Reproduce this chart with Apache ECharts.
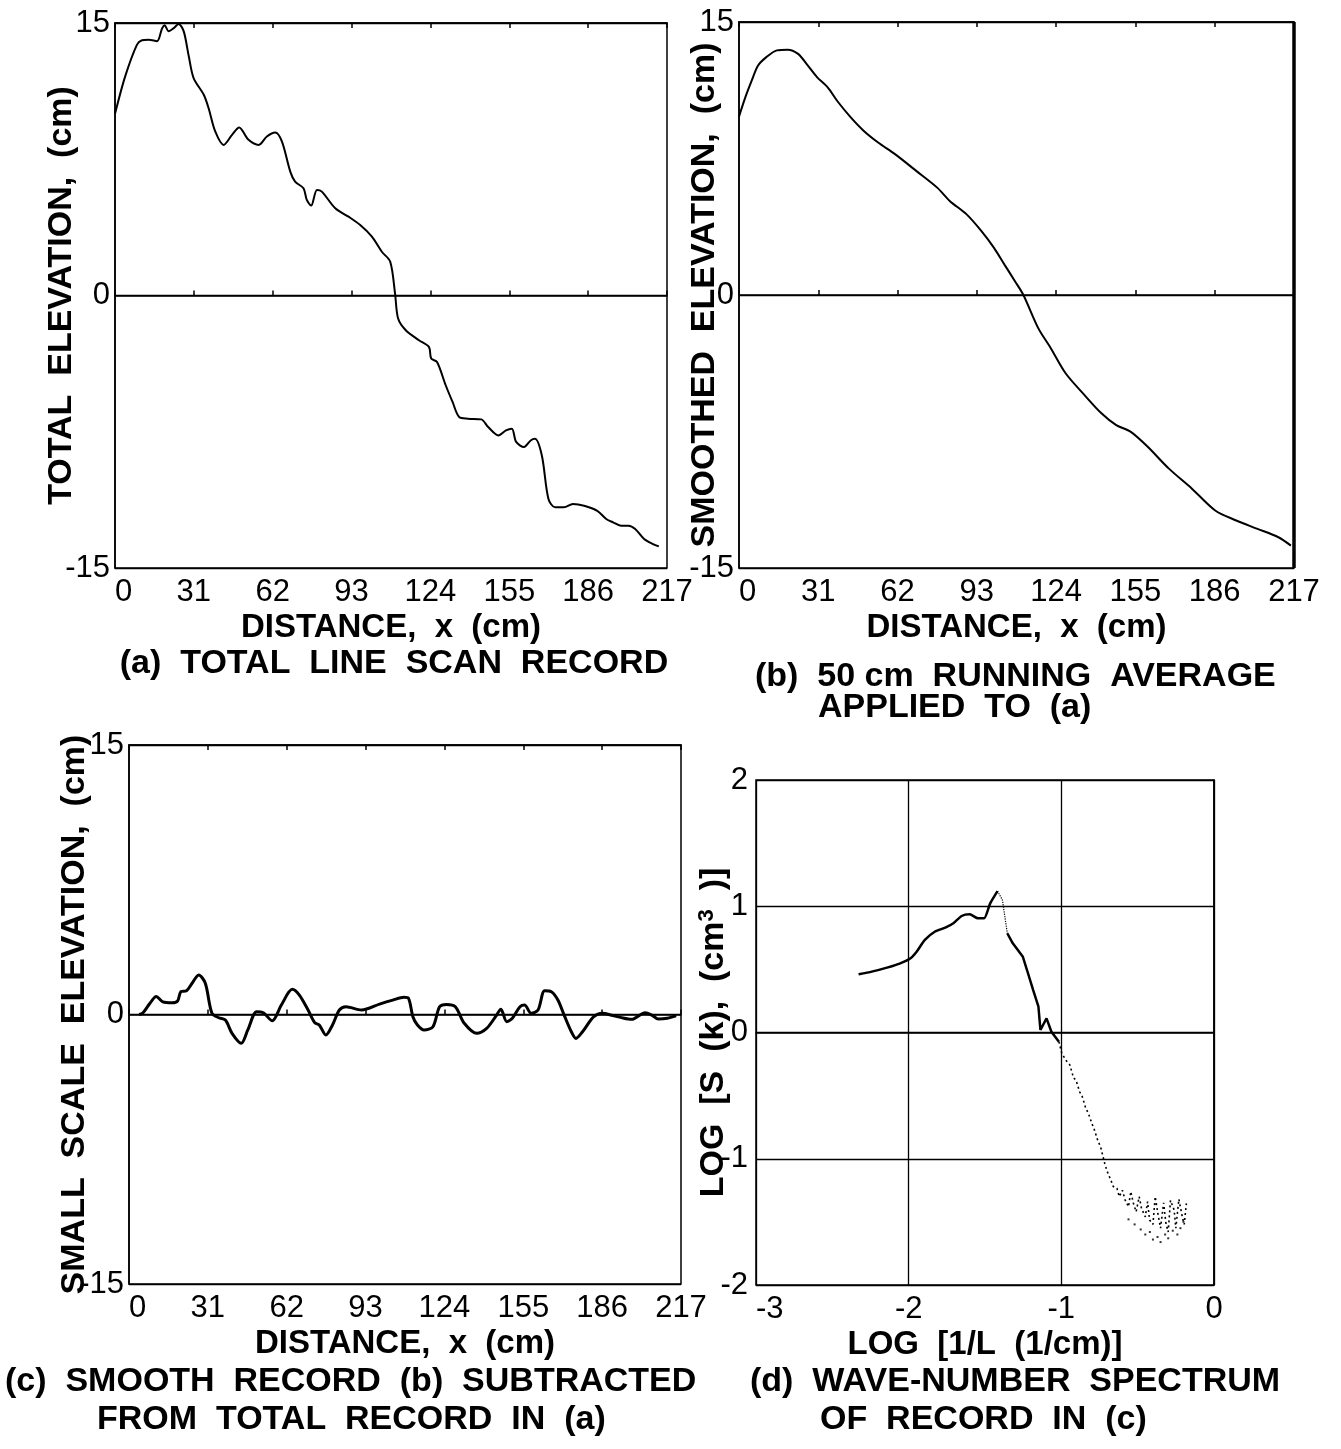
<!DOCTYPE html>
<html>
<head>
<meta charset="utf-8">
<script src="https://cdn.jsdelivr.net/npm/echarts@6/dist/echarts.min.js"></script>
<style>
  html, body { margin: 0; padding: 0; background: #fff; }
  #chart { width: 1341px; height: 1449px; }
</style>
</head>
<body>
<div id="chart"></div>
<script>
// ---- (a) total line scan record: distance (cm) / elevation (cm)
const totalDist = [0, 4.0, 8.6, 10.6, 13.2, 16.5, 18.5, 19.5, 21.1, 23.1, 25, 27, 29, 30.9, 34.9, 36.8, 39.4, 42.7, 46, 48.8,
  52.5, 56.5, 59.7, 63, 65.6, 68.9, 70.8, 74.1, 75.4, 77.1, 79.4, 81.3, 86.6, 91.8, 96.4, 101, 104.9, 108.2, 110.1, 111.3,
  114.3, 119.5, 123.4, 124.3, 126.6, 130, 132.7, 135.3, 138.8, 144, 146.7, 150.7, 153.7, 156, 157.7, 160.8, 163.4, 165.1, 167.8, 170.4,
  173, 176.5, 180, 184.4, 189.6, 193.1, 195.8, 198.9, 201.9, 204.5, 208, 211.5, 213.8];
const totalElev = [10.0, 12.06, 13.8, 14.05, 14.08, 14.0, 14.7, 14.87, 14.55, 14.72, 14.95, 14.55, 13.17, 11.97, 11.05, 10.31, 9.03, 8.29, 8.84, 9.25,
  8.57, 8.29, 8.75, 8.97, 8.48, 6.82, 6.27, 5.9, 5.26, 4.95, 5.81, 5.72, 4.8, 4.34, 3.88, 3.24, 2.41, 1.86, 0.1, -1.27,
  -1.91, -2.46, -2.83, -3.47, -3.66, -4.94, -5.86, -6.69, -6.78, -6.82, -7.24, -7.7, -7.42, -7.33, -8.06, -8.34, -7.98, -7.89, -8.81, -11.2,
  -11.66, -11.66, -11.48, -11.57, -11.85, -12.3, -12.49, -12.67, -12.67, -12.85, -13.4, -13.68, -13.81];

// ---- (b) 50 cm running average
const smoothDist = [0, 2.5, 5, 7.4, 10.7, 14.8, 19, 23.1, 26.4, 30.5, 34.6, 38.8, 43.7, 48.7, 54.4, 61, 69.3, 77.5, 82.4, 89,
  94.8, 99.7, 103.8, 107.9, 111.2, 117, 121.9, 127.7, 135.1, 141.7, 147.5, 153.2, 159.8, 168.1, 177.1, 186.2, 194.4, 202.7, 210.9, 215.8];
const smoothElev = [9.8, 10.87, 11.79, 12.6, 13.07, 13.44, 13.48, 13.25, 12.7, 11.97, 11.42, 10.59, 9.76, 9.03, 8.38, 7.74, 6.82, 5.9, 5.17, 4.43,
  3.51, 2.59, 1.67, 0.76, 0, -1.82, -2.92, -4.3, -5.5, -6.5, -7.15, -7.52, -8.34, -9.54, -10.64, -11.84, -12.39, -12.85, -13.31, -13.77];

// ---- (c) small scale residual
const smallDist = [4, 5.5, 8.1, 10.7, 13.3, 16.9, 19.1, 20.4, 22.6, 24.8, 27.4, 30, 32.6, 35.3, 37.9, 40.5, 44.1, 46.7, 50.2, 52.8,
  56.3, 59.9, 64.2, 66.9, 70.4, 73, 74.8, 77.4, 80, 82.7, 85.3, 91.4, 98.5, 103.7, 108.1, 109.9, 111.6, 113.4, 116, 119.5,
  122.1, 124.8, 128.3, 131.8, 136.7, 140.6, 144.1, 146.2, 148.5, 150.7, 153.7, 155.5, 158.1, 160.8, 163.4, 166, 168.6, 171.3, 173.9, 175.7,
  178.3, 182.7, 186.2, 189.7, 193.2, 197.6, 202.9, 205.5, 208.1, 211.6, 215.1];
const smallElev = [0, 0.1, 0.6, 1.0, 0.7, 0.65, 0.75, 1.27, 1.32, 1.74, 2.2, 1.74, 0.07, -0.18, -0.31, -1.05, -1.6, -0.86, 0.16, 0.1,
  -0.35, 0.53, 1.4, 1.09, 0.25, -0.45, -0.58, -1.14, -0.58, 0.25, 0.43, 0.25, 0.58, 0.8, 0.96, 0.9, -0.12, -0.58, -0.86, -0.68,
  0.43, 0.56, 0.43, -0.49, -1.05, -0.77, -0.12, 0.29, -0.4, -0.21, 0.43, 0.53, 0.07, 0.25, 1.32, 1.27, 0.81, -0.12, -0.96, -1.33,
  -0.96, -0.12, 0.07, -0.04, -0.16, -0.27, 0.1, -0.03, -0.25, -0.21, -0.08];

// ---- (d) wave-number spectrum: log10 wavenumber / log10 S(k)
const specLogK = [-2.328, -2.242, -2.136, -2.055, -1.988, -1.948, -1.894, -1.827, -1.76, -1.707, -1.653, -1.6, -1.546, -1.506, -1.466, -1.418];
const specLogS = [0.461, 0.482, 0.516, 0.548, 0.588, 0.64, 0.733, 0.8, 0.83, 0.865, 0.923, 0.936, 0.904, 0.904, 1.023, 1.12];
const peakLogK = [-1.418, -1.386, -1.354];
const peakLogS = [1.12, 1.05, 0.786];
const fallLogK = [-1.354, -1.318, -1.252, -1.225, -1.185, -1.15, -1.137, -1.097, -1.065, -1.016];
const fallLogS = [0.786, 0.706, 0.6, 0.495, 0.337, 0.204, 0.02, 0.112, 0.006, -0.073];
const tailLogK = [-1.016, -0.997, -0.97, -0.944, -0.92, -0.904, -0.88, -0.863, -0.84, -0.823, -0.8, -0.783, -0.76, -0.743, -0.716, -0.7,
  -0.676, -0.66, -0.636, -0.62, -0.6, -0.582, -0.56, -0.545, -0.528, -0.51, -0.49, -0.475, -0.45, -0.435, -0.422, -0.4,
  -0.385, -0.368, -0.35, -0.33, -0.315, -0.3, -0.285, -0.261, -0.25, -0.23, -0.208, -0.195, -0.181];
const tailLogS = [-0.073, -0.165, -0.22, -0.257, -0.36, -0.376, -0.47, -0.508, -0.6, -0.64, -0.72, -0.772, -0.86, -0.905, -1.036, -1.1,
  -1.168, -1.22, -1.234, -1.3, -1.25, -1.327, -1.38, -1.26, -1.353, -1.42, -1.3, -1.393, -1.46, -1.34, -1.485, -1.52,
  -1.3, -1.432, -1.55, -1.35, -1.511, -1.58, -1.33, -1.406, -1.55, -1.32, -1.459, -1.52, -1.353];
const floorLogK = [-0.56, -0.52, -0.48, -0.45, -0.42, -0.4, -0.37, -0.35, -0.32, -0.3, -0.27, -0.24, -0.22, -0.2];
const floorLogS = [-1.48, -1.52, -1.56, -1.6, -1.58, -1.64, -1.62, -1.66, -1.6, -1.63, -1.57, -1.6, -1.55, -1.5];

// ---- axis ticks and labels
const distMin = 0, distMax = 217, distStep = 31;
const elevMin = -15, elevMax = 15, elevStep = 15;
const logKMin = -3, logKMax = 0;
const logSMin = -2, logSMax = 2;

const pairs = (xs, ys) => xs.map((x, i) => [x, ys[i]]);

const FONT = 'Liberation Sans, Arial, Helvetica, sans-serif';
const INK = '#000';
const tickLabel = { color: INK, fontFamily: FONT, fontSize: 31 };
const titleStyle = { color: INK, fontFamily: FONT, fontSize: 33, fontWeight: 'bold' };
const CAPTION_FONT = 'bold 34px ' + FONT;

function distAxis(gridIndex) {
  return {
    type: 'value', gridIndex, min: distMin, max: distMax, interval: distStep,
    name: 'DISTANCE,  x  (cm)', nameLocation: 'middle', nameGap: 43, nameMoveOverlap: false,
    nameTextStyle: Object.assign({}, titleStyle),
    axisLine: { show: true, lineStyle: { color: INK, width: 1.5 } },
    axisTick: { show: true, inside: true, length: 5, lineStyle: { color: INK, width: 1.5 } },
    axisLabel: Object.assign({ margin: 9, alignMinLabel: 'left' }, tickLabel),
    splitLine: { show: false }
  };
}
function topAxis(gridIndex) {
  return {
    type: 'value', gridIndex, position: 'top', min: distMin, max: distMax, interval: distStep,
    axisLine: { show: true, lineStyle: { color: INK, width: 1.5 } },
    axisTick: { show: true, inside: true, length: 5, lineStyle: { color: INK, width: 1.5 } },
    axisLabel: { show: false }, splitLine: { show: false }
  };
}
function elevAxis(gridIndex, name, gap) {
  return {
    type: 'value', gridIndex, min: elevMin, max: elevMax, interval: elevStep,
    name, nameLocation: 'middle', nameGap: gap, nameMoveOverlap: false,
    nameTextStyle: Object.assign({}, titleStyle, { fontSize: 34 }),
    axisLine: { show: true, lineStyle: { color: INK, width: 1.5 } },
    axisTick: { show: false },
    axisLabel: Object.assign({ margin: 5 }, tickLabel),
    splitLine: { show: true, lineStyle: { color: INK, width: 1.3 } }
  };
}
function lineSeries(xi, yi, data, width, extra) {
  return Object.assign({
    type: 'line', xAxisIndex: xi, yAxisIndex: yi, data,
    showSymbol: false, smooth: 0.3, silent: true,
    lineStyle: { color: INK, width }
  }, extra || {});
}

const gridBox = { show: true, borderColor: INK, borderWidth: 1.5, backgroundColor: 'transparent', containLabel: false, outerBoundsMode: 'none' };

const option = {
  backgroundColor: '#fff',
  animation: false,
  grid: [
    Object.assign({ left: 115, top: 23, width: 552, height: 545 }, gridBox),
    Object.assign({ left: 739, top: 22, width: 555, height: 546 }, gridBox),
    Object.assign({ left: 129, top: 745, width: 552, height: 539 }, gridBox),
    Object.assign({ left: 756, top: 780, width: 458, height: 505 }, gridBox)
  ],
  xAxis: [
    distAxis(0), distAxis(1), distAxis(2),
    {
      type: 'value', gridIndex: 3, min: logKMin, max: logKMax, interval: 1,
      name: 'LOG  [1/L  (1/cm)]', nameLocation: 'middle', nameGap: 43, nameMoveOverlap: false,
      nameTextStyle: Object.assign({}, titleStyle),
      axisLine: { show: true, lineStyle: { color: INK, width: 1.5 } },
      axisTick: { show: false },
      axisLabel: Object.assign({ margin: 9, alignMinLabel: 'left' }, tickLabel),
      splitLine: { show: true, lineStyle: { color: INK, width: 1.3 } }
    },
    topAxis(0), topAxis(1), topAxis(2)
  ],
  yAxis: [
    elevAxis(0, 'TOTAL  ELEVATION,  (cm)', 36),
    elevAxis(1, 'SMOOTHED  ELEVATION,  (cm)', 17),
    elevAxis(2, 'SMALL  SCALE  ELEVATION,  (cm)', 37),
    {
      type: 'value', gridIndex: 3, min: logSMin, max: logSMax, interval: 1,
      name: 'LOG  [S  (k),  (cm{sup|3}  )]', nameLocation: 'middle', nameGap: 24, nameMoveOverlap: false,
      nameTextStyle: Object.assign({}, titleStyle, {
        fontSize: 34,
        rich: { sup: { fontFamily: FONT, fontSize: 22, fontWeight: 'bold', color: INK, verticalAlign: 'top', padding: [0, 0, 14, 0] } }
      }),
      axisLine: { show: true, lineStyle: { color: INK, width: 1.5 } },
      axisTick: { show: false },
      axisLabel: Object.assign({ margin: 8 }, tickLabel),
      splitLine: { show: true, lineStyle: { color: INK, width: 1.3 } }
    }
  ],
  series: [
    lineSeries(0, 0, pairs(totalDist, totalElev), 2),
    lineSeries(1, 1, pairs(smoothDist, smoothElev), 2, {
      markLine: {
        silent: true, symbol: 'none', label: { show: false },
        lineStyle: { color: INK, width: 3.5, type: 'solid' },
        data: [{ xAxis: distMax }]
      }
    }),
    lineSeries(2, 2, pairs(smallDist, smallElev), 3),
    lineSeries(3, 3, pairs(specLogK, specLogS), 2.5, { smooth: 0.2 }),
    lineSeries(3, 3, pairs(peakLogK, peakLogS), 1.2, { smooth: false, lineStyle: { color: INK, width: 1.2, type: 'dotted' } }),
    lineSeries(3, 3, pairs(fallLogK, fallLogS), 2.5, { smooth: false }),
    lineSeries(3, 3, pairs(tailLogK, tailLogS), 1.6, { smooth: false, lineStyle: { color: INK, width: 1.6, type: [2, 3] } }),
    {
      type: 'scatter', xAxisIndex: 3, yAxisIndex: 3, silent: true,
      data: pairs(floorLogK, floorLogS), symbol: 'rect', symbolSize: 2,
      itemStyle: { color: INK }
    }
  ],
  graphic: [
    { type: 'text', x: 394, y: 664, silent: true, style: { text: '(a)  TOTAL  LINE  SCAN  RECORD', align: 'center', verticalAlign: 'middle', font: CAPTION_FONT, fill: INK } },
    { type: 'text', x: 755, y: 677, silent: true, style: { text: '(b)  50 cm  RUNNING  AVERAGE', align: 'left', verticalAlign: 'middle', font: CAPTION_FONT, fill: INK } },
    { type: 'text', x: 818, y: 708, silent: true, style: { text: 'APPLIED  TO  (a)', align: 'left', verticalAlign: 'middle', font: CAPTION_FONT, fill: INK } },
    { type: 'text', x: 5, y: 1382, silent: true, style: { text: '(c)  SMOOTH  RECORD  (b)  SUBTRACTED', align: 'left', verticalAlign: 'middle', font: CAPTION_FONT, fill: INK } },
    { type: 'text', x: 97, y: 1420, silent: true, style: { text: 'FROM  TOTAL  RECORD  IN  (a)', align: 'left', verticalAlign: 'middle', font: CAPTION_FONT, fill: INK } },
    { type: 'text', x: 750, y: 1382, silent: true, style: { text: '(d)  WAVE-NUMBER  SPECTRUM', align: 'left', verticalAlign: 'middle', font: CAPTION_FONT, fill: INK } },
    { type: 'text', x: 820, y: 1420, silent: true, style: { text: 'OF  RECORD  IN  (c)', align: 'left', verticalAlign: 'middle', font: CAPTION_FONT, fill: INK } }
  ]
};

const chart = echarts.init(document.getElementById('chart'), null, { renderer: 'canvas' });
chart.setOption(option);
</script>
</body>
</html>
